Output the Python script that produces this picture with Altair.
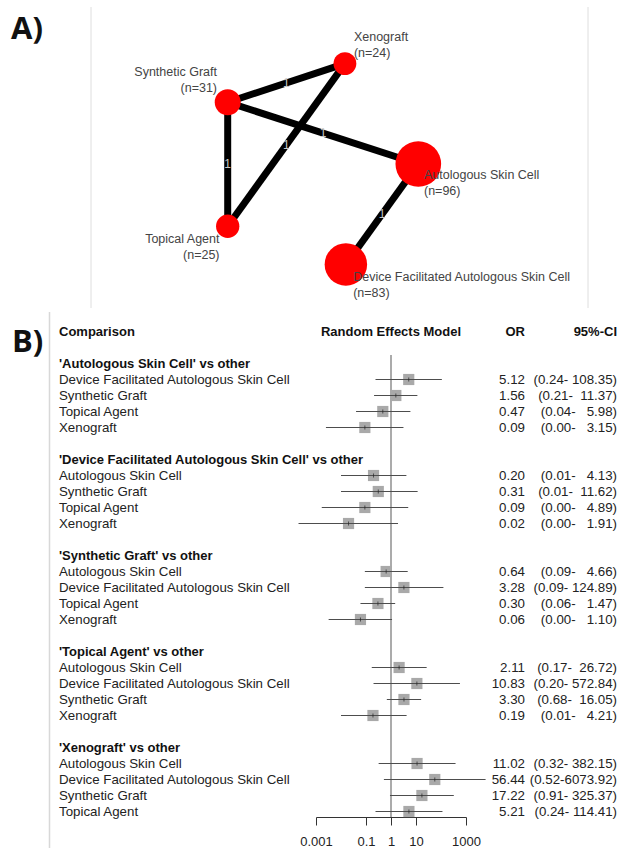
import altair as alt
import pandas as pd

FONT = "Liberation Sans"

# ---------------- Network of treatments ----------------
nodes = ["Synthetic Graft", "Xenograft", "Topical Agent", "Autologous Skin Cell",
         "Device Facilitated Autologous Skin Cell"]
node_n = [31, 24, 25, 96, 83]
# layout coordinates of the network (unit box)
layout_x = [-1.0, 0.23, -1.0, 1.0, 0.24]
layout_y = [0.615, 1.0, -0.62, 0.0, -1.0]

edge_from = ["Synthetic Graft", "Synthetic Graft", "Synthetic Graft", "Xenograft",
             "Autologous Skin Cell"]
edge_to = ["Xenograft", "Autologous Skin Cell", "Topical Agent", "Topical Agent",
           "Device Facilitated Autologous Skin Cell"]
edge_studies = [1, 1, 1, 1, 1]

# ---------------- Forest plot ----------------
groups = ["Autologous Skin Cell", "Device Facilitated Autologous Skin Cell",
          "Synthetic Graft", "Topical Agent", "Xenograft"]
comparators = [
    ["Device Facilitated Autologous Skin Cell", "Synthetic Graft", "Topical Agent", "Xenograft"],
    ["Autologous Skin Cell", "Synthetic Graft", "Topical Agent", "Xenograft"],
    ["Autologous Skin Cell", "Device Facilitated Autologous Skin Cell", "Topical Agent", "Xenograft"],
    ["Autologous Skin Cell", "Device Facilitated Autologous Skin Cell", "Synthetic Graft", "Xenograft"],
    ["Autologous Skin Cell", "Device Facilitated Autologous Skin Cell", "Synthetic Graft", "Topical Agent"],
]
odds_ratio = [
    [5.12, 1.56, 0.47, 0.09],
    [0.20, 0.31, 0.09, 0.02],
    [0.64, 3.28, 0.30, 0.06],
    [2.11, 10.83, 3.30, 0.19],
    [11.02, 56.44, 17.22, 5.21],
]
ci_low = [
    [0.24, 0.21, 0.04, 0.0025],
    [0.01, 0.01, 0.0017, 0.0002],
    [0.09, 0.09, 0.06, 0.0032],
    [0.17, 0.20, 0.68, 0.01],
    [0.32, 0.52, 0.91, 0.24],
]
ci_high = [
    [108.35, 11.37, 5.98, 3.15],
    [4.13, 11.62, 4.89, 1.91],
    [4.66, 124.89, 1.47, 1.10],
    [26.72, 572.84, 16.05, 4.21],
    [382.15, 6073.92, 325.37, 114.41],
]
axis_ticks = [0.001, 0.1, 1, 10, 1000]

# ======== panel A: network ========
W = 621
A_H = 310
cx, kx = 323.0, 95.3     # pixel centre / pixels per layout unit (x)
cy, ky = 164.0, 100.4    # pixel centre / pixels per layout unit (y)
ax_dom = [(0 - cx) / kx, (W - cx) / kx]
ay_dom = [(cy - A_H) / ky, cy / ky]
xsA = alt.Scale(domain=ax_dom, nice=False, zero=False)
ysA = alt.Scale(domain=ay_dom, nice=False, zero=False)

pos = {n: (x, y) for n, x, y in zip(nodes, layout_x, layout_y)}
node_df = pd.DataFrame({"name": nodes, "n": node_n, "lx": layout_x, "ly": layout_y})
edge_df = pd.DataFrame({
    "x1": [pos[a][0] for a in edge_from], "y1": [pos[a][1] for a in edge_from],
    "x2": [pos[b][0] for b in edge_to], "y2": [pos[b][1] for b in edge_to],
    "k": [str(s) for s in edge_studies],
})
edge_df["mx"] = (edge_df.x1 + edge_df.x2) / 2
edge_df["my"] = (edge_df.y1 + edge_df.y2) / 2

# label placement: alignment, horizontal pixel offset, pixel offset of first line
label_place = {
    "Synthetic Graft": ("right", -10.7, -30.3),
    "Xenograft": ("left", 9.0, -26.5),
    "Topical Agent": ("right", -8.2, 13.0),
    "Autologous Skin Cell": ("left", 5.7, 10.7),
    "Device Facilitated Autologous Skin Cell": ("left", 7.3, 12.7),
}
lab_rows = []
for name, n in zip(nodes, node_n):
    al, dx, dy = label_place[name]
    x0, y0 = pos[name]
    for j, t in enumerate([name, f"(n={n})"]):
        lab_rows.append({"t": t, "align": al,
                         "lx": x0 + dx / kx, "ly": y0 - (dy + 16 * j) / ky})
lab_df = pd.DataFrame(lab_rows)

edges = alt.Chart(edge_df).mark_rule(color="black", strokeWidth=7).encode(
    x=alt.X("x1:Q", scale=xsA, axis=None),
    y=alt.Y("y1:Q", scale=ysA, axis=None),
    x2="x2:Q", y2="y2:Q",
)
edge_lab = alt.Chart(edge_df).mark_text(color="#c8c8c8", fontSize=12, font=FONT).encode(
    x=alt.X("mx:Q", scale=xsA, axis=None),
    y=alt.Y("my:Q", scale=ysA, axis=None),
    text="k:N",
)
node_pts = alt.Chart(node_df).mark_circle(color="#ff0000", opacity=1).encode(
    x=alt.X("lx:Q", scale=xsA, axis=None),
    y=alt.Y("ly:Q", scale=ysA, axis=None),
    size=alt.Size("n:Q", scale=alt.Scale(domain=[0, 96], range=[0, 2085]), legend=None),
)


def node_text(al):
    return alt.Chart(lab_df[lab_df["align"] == al]).mark_text(
        align=al, baseline="middle", fontSize=12.5, color="#444444", font=FONT
    ).encode(
        x=alt.X("lx:Q", scale=xsA, axis=None),
        y=alt.Y("ly:Q", scale=ysA, axis=None),
        text="t:N",
    )


one = pd.DataFrame({"k": [0]})
frameA = alt.Chart(pd.DataFrame({"xp": [91, 588]})).mark_rule(
    color="#dedede", strokeWidth=1).encode(
    x=alt.X("xp:Q", scale=alt.Scale(domain=[0, W], range=[0, W]), axis=None),
    y=alt.value(7), y2=alt.value(308),
)
tagA = alt.Chart(one).mark_text(
    text="A)", align="left", baseline="middle", fontSize=31, fontWeight="bold",
    font="Open Sans", color="#111111"
).encode(x=alt.value(11), y=alt.value(30))

panelA = alt.layer(frameA, edges, edge_lab, node_pts, node_text("left"),
                   node_text("right"), tagA).resolve_scale(x="independent").properties(
    width=W, height=A_H)

# ======== panel B: forest plot ========
B_H = 507
row_h, row0 = 16.0, 21.5
ysB = alt.Scale(domain=[-row0 / row_h, (B_H - row0) / row_h], nice=False, zero=False,
                reverse=True)
xsB = alt.Scale(type="log", domain=[0.001, 1000], range=[316, 466], nice=False)

rows, heads = [], []
for g, grp in enumerate(groups):
    heads.append({"t": f"'{grp}' vs other", "r": 2 + 6 * g})
    for i, comp in enumerate(comparators[g]):
        o, lo, hi = odds_ratio[g][i], ci_low[g][i], ci_high[g][i]
        rows.append({
            "t": comp, "r": 3 + 6 * g + i, "or": o, "lo": lo, "hi": hi,
            "or_s": f"{o:.2f}",
            "ci_s": f"({lo:.2f}-{hi:>7.2f})".replace(" ", "\u00a0"),
        })
fdf = pd.DataFrame(rows)
hdf = pd.DataFrame(heads)

TXT = "#222222"
FS = 13.3
yB = alt.Y("r:Q", scale=ysB, axis=None)

ref_line = alt.Chart(one).mark_rule(color="#8f8f8f", strokeWidth=1.5).encode(
    x=alt.X(datum=1, scale=xsB, title=None), y=alt.value(45), y2=alt.value(B_H))
squares = alt.Chart(fdf).mark_square(color="#a9a9a9", size=125, opacity=1).encode(
    x=alt.X("or:Q", scale=xsB, title=None,
            axis=alt.Axis(values=axis_ticks, format="~g", grid=False, tickSize=8,
                          labelPadding=10, labelFontSize=13, labelFont=FONT,
                          labelColor=TXT, domainColor="#333333", tickColor="#333333",
                          labelFlush=False, labelOverlap=False)),
    y=yB,
)
ci = alt.Chart(fdf).mark_rule(color="#4d4d4d", strokeWidth=1).encode(
    x=alt.X("lo:Q", scale=xsB, title=None), x2="hi:Q", y=yB)
est = alt.Chart(fdf).mark_tick(orient="vertical", size=4, thickness=1, color="#222222").encode(
    x=alt.X("or:Q", scale=xsB, title=None), y=yB)

comp_txt = alt.Chart(fdf).mark_text(align="left", baseline="middle", fontSize=FS,
                                    font=FONT, color=TXT).encode(
    x=alt.value(59), y=yB, text="t:N")
head_txt = alt.Chart(hdf).mark_text(align="left", baseline="middle", fontSize=13,
                                    font=FONT, fontWeight="bold", color="#111111").encode(
    x=alt.value(59), y=yB, text="t:N")
or_txt = alt.Chart(fdf).mark_text(align="right", baseline="middle", fontSize=FS,
                                  font=FONT, color=TXT).encode(
    x=alt.value(525), y=yB, text="or_s:N")
ci_txt = alt.Chart(fdf).mark_text(align="right", baseline="middle", fontSize=FS,
                                  font=FONT, color=TXT).encode(
    x=alt.value(617), y=yB, text="ci_s:N")

col_heads = pd.DataFrame({"r": [0]})


def col_head(label, align, xenc):
    return alt.Chart(col_heads).mark_text(
        text=label, align=align, baseline="middle", fontSize=13, font=FONT,
        fontWeight="bold", color="#111111").encode(x=xenc, y=yB)


h1 = col_head("Comparison", "left", alt.value(59))
h2 = col_head("Random Effects Model", "center", alt.X(datum=1, scale=xsB, title=None))
h3 = col_head("OR", "right", alt.value(525))
h4 = col_head("95%-CI", "right", alt.value(617))

frameB = alt.Chart(one).mark_rule(color="#d8d8d8", strokeWidth=1.5).encode(
    x=alt.value(49.5), y=alt.value(2), y2=alt.value(538))
tagB = alt.Chart(one).mark_text(
    text="B)", align="left", baseline="middle", fontSize=31, fontWeight="bold",
    font="Open Sans", color="#111111"
).encode(x=alt.value(12), y=alt.value(33))

panelB = alt.layer(frameB, ref_line, squares, ci, est, comp_txt, head_txt, or_txt,
                   ci_txt, h1, h2, h3, h4, tagB).properties(width=W, height=B_H)

chart = alt.vconcat(panelA, panelB, spacing=0).properties(
    padding=0, background="white"
).configure_view(stroke=None).configure_concat(spacing=0)

chart.save("out.html", embed_options={"renderer": "svg", "actions": False})
